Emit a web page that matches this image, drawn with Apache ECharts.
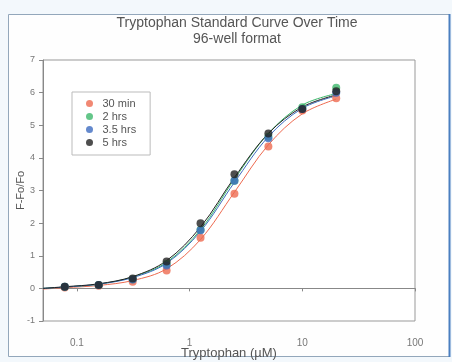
<!DOCTYPE html>
<html><head><meta charset="utf-8">
<script src="https://cdn.jsdelivr.net/npm/echarts@6/dist/echarts.min.js"></script>
<style>html,body{margin:0;padding:0;background:#f3f8fc;}#c{width:452px;height:362px;}</style>
</head><body><div id="c"></div>
<script>
// Concentrations (µM)
const conc = [0.078, 0.156, 0.3125, 0.625, 1.25, 2.5, 5, 10, 20];
// Measured F-Fo/Fo
const min30 = [0.03, 0.08, 0.2, 0.55, 1.55, 2.9, 4.35, 5.45, 5.83];
const hrs2  = [0.05, 0.1, 0.28, 0.75, 1.8, 3.3, 4.65, 5.55, 6.15];
const hrs35 = [0.05, 0.1, 0.27, 0.7, 1.78, 3.3, 4.6, 5.5, 6.0];
const hrs5  = [0.05, 0.1, 0.3, 0.82, 2.0, 3.5, 4.75, 5.5, 6.04];
// Fitted curves
const fitX     = [0.05, 0.078, 0.156, 0.3125, 0.625, 1.25, 2.5, 5, 10, 20];
const fit30    = [-0.02, 0.02, 0.09, 0.24, 0.6, 1.5, 2.95, 4.4, 5.35, 5.8];
const fit2     = [0.0, 0.04, 0.13, 0.35, 0.8, 1.8, 3.35, 4.75, 5.62, 5.97];
const fit35    = [0.0, 0.04, 0.13, 0.33, 0.77, 1.75, 3.25, 4.65, 5.52, 5.9];
const fit5     = [0.0, 0.05, 0.14, 0.36, 0.85, 1.88, 3.4, 4.75, 5.56, 5.93];
const names  = ['30 min', '2 hrs', '3.5 hrs', '5 hrs'];
const colors = ['#ee6a50', '#3db86b', '#3d6cc0', '#222222'];
const yTicks = [-1, 7];

const meas = [min30, hrs2, hrs35, hrs5];
const fits = [fit30, fit2, fit35, fit5];
const pair = (xs, ys) => xs.map((x, i) => [x, ys[i]]);

const series = [];
fits.forEach((f, i) => series.push({
  name: names[i] + ' fit', type: 'line', data: pair(fitX, f), smooth: 0.35,
  showSymbol: false, symbol: 'none', lineStyle: {color: colors[i], width: 1}, z: 2, silent: true
}));
meas.forEach((m, i) => series.push({
  name: names[i], type: 'scatter', data: pair(conc, m), symbolSize: 8,
  itemStyle: {color: colors[i]}, z: 3 + i
}));

const titleFont = {fontFamily: 'Liberation Sans, Arial', fontSize: 14, fontWeight: 'normal', color: '#555'};
const chart = echarts.init(document.getElementById('c'));
chart.setOption({
  animation: false,
  backgroundColor: 'transparent',
  graphic: [{
    type: 'rect', shape: {x: 8.5, y: 14.5, width: 441, height: 342}, z: -10,
    style: {fill: '#fefefe', stroke: '#93a7bb', lineWidth: 1}
  }, {
    type: 'line', shape: {x1: 449.5, y1: 14, x2: 449.5, y2: 357}, z: -9,
    style: {stroke: '#4a7fc0', lineWidth: 2}
  }],
  title: [
    {text: 'Tryptophan Standard Curve Over Time', left: 232, top: 11, textAlign: 'center', textStyle: titleFont},
    {text: '96-well format', left: 232, top: 27, textAlign: 'center', textStyle: titleFont}
  ],
  legend: {
    data: names, orient: 'vertical', left: 72, top: 92,
    icon: 'circle', itemWidth: 16, itemHeight: 7, itemGap: 0,
    padding: [5, 14, 6, 14], borderColor: '#bbb', borderWidth: 1, backgroundColor: '#fff',
    textStyle: {fontFamily: 'Liberation Sans, Arial', fontSize: 11, color: '#555', lineHeight: 13}
  },
  grid: {left: 43, right: 37, top: 60, bottom: 41, show: true, borderColor: '#999', borderWidth: 1,
    backgroundColor: '#fff', containLabel: false, outerBoundsMode: 'none'},
  xAxis: {
    type: 'log', logBase: 10, min: 0.05, max: 100,
    name: 'Tryptophan (\u00b5M)', nameLocation: 'middle', nameGap: 26, nameMoveOverlap: false,
    nameTextStyle: {fontFamily: 'Liberation Sans, Arial', fontSize: 13, color: '#555'},
    axisLine: {lineStyle: {color: '#888'}},
    axisTick: {show: true, length: 3, lineStyle: {color: '#888'}},
    minorTick: {show: false},
    splitLine: {show: false},
    axisLabel: {fontFamily: 'Liberation Sans, Arial', fontSize: 10, color: '#777', margin: 17,
      formatter: v => { const l = Math.log10(v); return Math.abs(l - Math.round(l)) < 1e-6 ? String(+v.toPrecision(3)) : ''; }}
  },
  yAxis: {
    type: 'value', min: yTicks[0], max: yTicks[1], interval: 1,
    name: 'F-Fo/Fo', nameLocation: 'middle', nameGap: 17, nameRotate: 90, nameMoveOverlap: false,
    nameTextStyle: {fontFamily: 'Liberation Sans, Arial', fontSize: 11, color: '#555'},
    axisLine: {show: true, lineStyle: {color: '#888'}},
    axisTick: {show: true, length: 4, lineStyle: {color: '#888'}},
    splitLine: {show: false},
    axisLabel: {fontFamily: 'Liberation Sans, Arial', fontSize: 9, color: '#777', margin: 8}
  },
  series: series
});
</script></body></html>
